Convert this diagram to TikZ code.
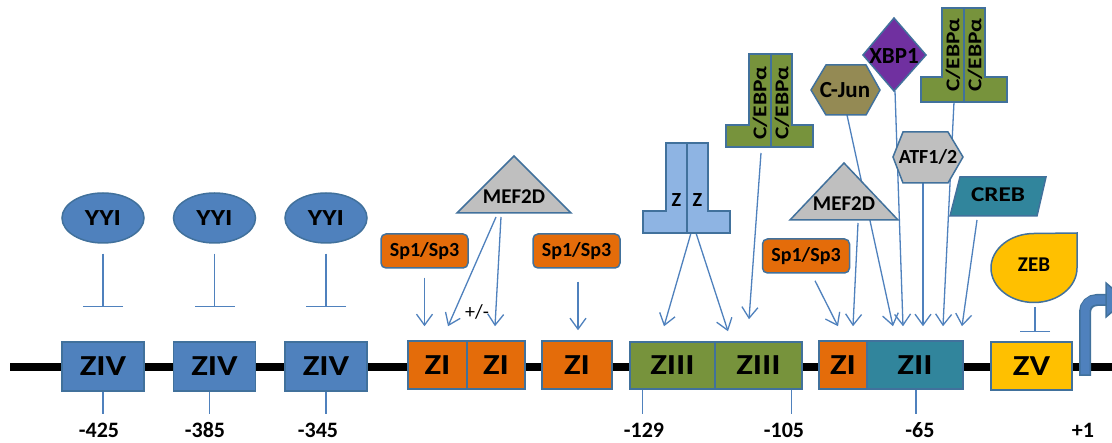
\documentclass[tikz,border=0pt]{standalone}
\usepackage{fontspec}
\setmainfont{Carlito}
\newfontfamily\widefont[FakeStretch=1.2]{Carlito}
\usetikzlibrary{shapes.geometric,arrows.meta,calc,backgrounds}
\definecolor{outl}{HTML}{41719C}
\definecolor{arrc}{HTML}{4F81BD}
\definecolor{bluef}{HTML}{4F81BD}
\definecolor{orangef}{HTML}{E46C0A}
\definecolor{greenf}{HTML}{77933C}
\definecolor{lbluef}{HTML}{8EB4E3}
\definecolor{grayf}{HTML}{BFBFBF}
\definecolor{olivef}{HTML}{948A54}
\definecolor{purplef}{HTML}{7030A0}
\definecolor{tealf}{HTML}{31859C}
\definecolor{yellowf}{HTML}{FFC000}
\newcommand\fsz[1]{\fontsize{#1}{#1}\selectfont}
\begin{document}
\begin{tikzpicture}[x=1pt,y=-1pt,
 outbox/.style={draw=outl, line width=1.5pt, inner sep=0pt, font=\widefont\fsz{29}\bfseries},
 spbox/.style={draw=outl, line width=1.5pt, fill=orangef, rounded corners=5pt, minimum width=87pt, minimum height=34pt, inner sep=0pt, font=\fsz{20}\bfseries},
 shp/.style={draw=outl, line width=1.5pt},
 lbl/.style={font=\fsz{21}\bfseries, inner sep=0pt},
 numl/.style={font=\fsz{22}\bfseries, inner sep=0pt},
 arr/.style={draw=arrc, line width=1.3pt, -{Straight Barb[length=11pt,width=16pt]}},
 inh/.style={draw=arrc, line width=1.1pt, -{Bar[width=40pt]}},
 tickl/.style={draw=arrc, line width=1.1pt},
]
\useasboundingbox (0,0) rectangle (1112,443);
\begin{pgfonlayer}{background}
\fill[white] (0,0) rectangle (1112,443);
\end{pgfonlayer}
\clip (0,0) rectangle (1112,443);

% main DNA line
\draw[line width=8pt] (10,367) -- (1112,367);

% boxes on the line
\node[outbox, fill=bluef, minimum width=82pt, minimum height=49pt] (ziv1) at (103,366.5) {ZIV};
\node[outbox, fill=bluef, minimum width=82pt, minimum height=49pt] (ziv2) at (214.5,366.5) {ZIV};
\node[outbox, fill=bluef, minimum width=82pt, minimum height=49pt] (ziv3) at (326,366.5) {ZIV};
\node[outbox, fill=orangef, minimum width=59pt, minimum height=48pt] (zi1) at (437.5,365) {ZI};
\node[outbox, fill=orangef, minimum width=58pt, minimum height=48pt] (zi2) at (496,365) {ZI};
\node[outbox, fill=orangef, minimum width=70pt, minimum height=48pt] (zi3) at (577,365) {ZI};
\node[outbox, fill=greenf, minimum width=85pt, minimum height=47pt] (ziii1) at (672.5,365.5) {ZIII};
\node[outbox, fill=greenf, minimum width=87pt, minimum height=47pt] (ziii2) at (758.5,365.5) {ZIII};
\node[outbox, fill=orangef, minimum width=48pt, minimum height=48pt] (zi4) at (843,365) {ZI};
\node[outbox, fill=tealf, minimum width=96pt, minimum height=48pt] (zii) at (915,365) {ZII};
\node[outbox, fill=yellowf, minimum width=81pt, minimum height=48pt] (zv) at (1031.5,366) {ZV};

% transcription start arrow
\draw[line width=12pt, draw=outl, rounded corners=12pt] (1085,376) |- (1110,300);
\draw[line width=9pt, draw=bluef, rounded corners=10.5pt] (1085,374.5) |- (1110,300);
\draw[shp, fill=bluef] (1106,283) -- (1126,300) -- (1106,317) -- cycle;

% YYI
\node[outbox, ellipse, fill=bluef, minimum width=82pt, minimum height=50pt, font=\widefont\fsz{23}\bfseries] (yy1) at (103,218) {YYI};
\node[outbox, ellipse, fill=bluef, minimum width=82pt, minimum height=50pt, font=\widefont\fsz{23}\bfseries] (yy2) at (214.5,218) {YYI};
\node[outbox, ellipse, fill=bluef, minimum width=82pt, minimum height=50pt, font=\widefont\fsz{23}\bfseries] (yy3) at (326,218) {YYI};

% Sp1/Sp3
\node[spbox] (sp1) at (424.5,251) {Sp1/Sp3};
\node[spbox] (sp2) at (576.5,251) {Sp1/Sp3};
\node[spbox] (sp3) at (806,256) {Sp1/Sp3};

% MEF2D triangles
\draw[shp, fill=grayf] (457,213) -- (514,156) -- (571,213) -- cycle;
\node[lbl] (mef1) at (514,197) {MEF2D};
\draw[shp, fill=grayf] (790,220) -- (844,163) -- (898,220) -- cycle;
\node[lbl] (mef2) at (844,204) {MEF2D};
\node[font=\fsz{20}, inner sep=0pt] (pm) at (477,312) {+/-};

% Z dimer
\draw[shp, fill=lbluef] (666,143) -- (708,143) -- (708,211) -- (730,211) -- (730,233) -- (643,233) -- (643,211) -- (666,211) -- cycle;
\draw[shp] (687,143) -- (687,233);
\node[lbl, font=\fsz{20}\bfseries] (za) at (676.5,200) {Z};
\node[lbl, font=\fsz{20}\bfseries] (zb) at (697.5,200) {Z};

% C/EBPalpha dimer 1
\draw[shp, fill=greenf] (749,54) -- (792,54) -- (792,125) -- (813,125) -- (813,147) -- (726,147) -- (726,125) -- (749,125) -- cycle;
\draw[shp] (771,54) -- (771,147);
\node[lbl, font=\widefont\fsz{19.5}\bfseries, rotate=90] (cebp1a) at (760,103) {C/EBPα};
\node[lbl, font=\widefont\fsz{19.5}\bfseries, rotate=90] (cebp1b) at (782,103) {C/EBPα};

% C/EBPalpha dimer 2
\draw[shp, fill=greenf] (942,8) -- (985,8) -- (985,77) -- (1007,77) -- (1007,102) -- (921,102) -- (921,77) -- (942,77) -- cycle;
\draw[shp] (964,8) -- (964,102);
\node[lbl, font=\widefont\fsz{19.5}\bfseries, rotate=90] (cebp2a) at (953,55) {C/EBPα};
\node[lbl, font=\widefont\fsz{19.5}\bfseries, rotate=90] (cebp2b) at (975,55) {C/EBPα};

% C-Jun hexagon
\draw[shp, fill=olivef] (811,90) -- (826,65) -- (866,65) -- (880,90) -- (866,115) -- (826,115) -- cycle;
\node[lbl, font=\fsz{23}\bfseries] (cjun) at (845,90) {C-Jun};

% XBP1 diamond
\draw[shp, fill=purplef] (863,55) -- (894,18) -- (926,55) -- (894,91) -- cycle;
\node[lbl, font=\fsz{23}\bfseries] (xbp) at (894,56) {XBP1};

% ATF1/2 hexagon
\draw[shp, fill=grayf] (893,157) -- (903,132) -- (948,132) -- (963,157) -- (948,183) -- (903,183) -- cycle;
\node[lbl, font=\fsz{20}\bfseries] (atf) at (928,157) {ATF1/2};

% CREB parallelogram
\draw[shp, fill=tealf] (960,177) -- (1046,177) -- (1037,216) -- (950,216) -- cycle;
\node[lbl, font=\widefont\fsz{21}\bfseries] (creb) at (998,195) {CREB};

% ZEB drop
\draw[shp, fill=yellowf] (1077,233) -- (1077,268) arc[start angle=0, end angle=270, x radius=43, y radius=34.5] -- cycle;
\node[lbl, font=\fsz{21}\bfseries] (zeb) at (1034,265) {ZEB};

% position labels
\node[numl] (l425) at (99,430) {-425};
\node[numl] (l385) at (205,430) {-385};
\node[numl] (l345) at (318,430) {-345};
\node[numl] (l129) at (644,430) {-129};
\node[numl] (l105) at (784,430) {-105};
\node[numl] (l65) at (920,430) {-65};
\node[numl] (l1) at (1083,430) {+1};

\begin{pgfonlayer}{background}
% ticks
\draw[tickl] (ziv1.south) -- ++(0,22);
\draw[tickl] ($(ziv2.south)+(-5,0)$) -- ++(0,22);
\draw[tickl] (ziv3.south) -- ++(0,22);
\draw[tickl] ($(ziii1.south west)+(13,0)$) -- ++(0,24);
\draw[tickl] ($(ziii2.south east)+(-11,0)$) -- ++(0,24);
\draw[tickl] ($(zii.south)+(1,0)$) -- ++(0,24);

% inhibitions
\draw[inh] ($(yy1.south)+(0,10)$) -- ($(ziv1.north)+(0,-34)$);
\draw[inh] ($(yy2.south)+(0,10)$) -- ($(ziv2.north)+(0,-34)$);
\draw[inh] ($(yy3.south)+(0,10)$) -- ($(ziv3.north)+(0,-34)$);
\draw[draw=arrc, line width=1.1pt, -{Bar[width=30pt]}] ($(zeb)+(1,42)$) -- ($(zv.north)+(3.5,-9)$);

% activating arrows
\draw[arr] ($(sp1.south)+(0,9)$) -- ($(zi1.north)+(-13,-14)$);
\draw[arr] ($(sp2.south)+(1.5,13)$) -- ($(zi3.north)+(1,-10)$);
\draw[arr] ($(mef1)+(-18,20)$) -- ($(zi1.north)+(10.5,-14)$);
\draw[arr] ($(mef1)+(-13,20)$) -- ($(zi2.north)+(-1,-14)$);
\draw[arr] ($(za)+(14.5,33)$) -- ($(ziii1.north)+(-8.5,-15)$);
\draw[arr] ($(zb)+(-1.5,33)$) -- ($(ziii2.north)+(-30.5,-10)$);
\draw[arr] ($(cebp1a)+(1,50)$) -- ($(ziii2.north)+(-9.5,-22)$);
\draw[arr] ($(sp3.south)+(9,7)$) -- ($(zi4.north)+(-5,-14)$);
\draw[arr] ($(mef2)+(14,19)$) -- ($(zi4.north)+(10,-14)$);
\draw[arr] ($(cjun)+(2,25)$) -- ($(zii.north)+(-22,-14)$);
\draw[arr] ($(xbp)+(1,35)$) -- ($(zii.north)+(-12,-14)$);
\draw[arr] ($(atf)+(-5,26)$) -- ($(zii.north)+(8,-14)$);
\draw[arr] ($(cebp2a)+(1,47)$) -- ($(zii.north)+(28,-14)$);
\draw[arr] ($(creb)+(-21,25)$) -- ($(zii.north)+(47,-14)$);
\end{pgfonlayer}
\end{tikzpicture}
\end{document}
